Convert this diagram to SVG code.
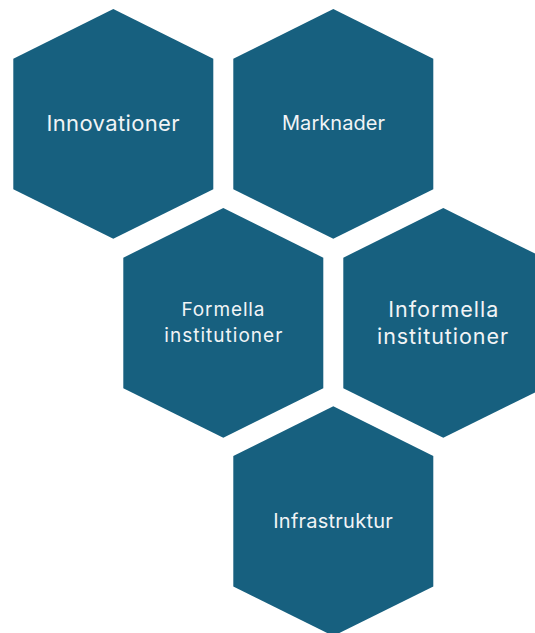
<svg xmlns="http://www.w3.org/2000/svg" xmlns:xlink="http://www.w3.org/1999/xlink" width="535" height="633" viewBox="0 0 535 633">
  <defs>
    <!-- pointy-top hexagon, origin at the top vertex -->
    <polygon id="hex" points="0,0 100,49.7 100,180.3 0,229.7 -100,180.3 -100,49.7"/>
  </defs>
  <style>
    .cell { fill: #17607f; }
    .label { fill: #f1f4f6; font-family: Inter, "Noto Sans", "Liberation Sans", sans-serif; text-anchor: middle; }
  </style>
  <rect width="535" height="633" fill="#ffffff"/>

  <g id="innovationer">
    <use xlink:href="#hex" href="#hex" class="cell" transform="translate(113.3,9)"/>
    <text class="label" x="113" y="131" font-size="22" textLength="133" lengthAdjust="spacing">Innovationer</text>
  </g>

  <g id="marknader">
    <use xlink:href="#hex" href="#hex" class="cell" transform="translate(333.3,9)"/>
    <text class="label" x="333.5" y="130" font-size="20" textLength="103" lengthAdjust="spacing">Marknader</text>
  </g>

  <g id="formella-institutioner">
    <use xlink:href="#hex" href="#hex" class="cell" transform="translate(223.3,208)"/>
    <text class="label" x="223" y="315.7" font-size="19" textLength="83" lengthAdjust="spacing">Formella</text>
    <text class="label" x="223.3" y="342" font-size="19" textLength="118" lengthAdjust="spacing">institutioner</text>
  </g>

  <g id="informella-institutioner">
    <use xlink:href="#hex" href="#hex" class="cell" transform="translate(443.3,208)"/>
    <text class="label" x="443.3" y="316.5" font-size="21.5" textLength="110" lengthAdjust="spacing">Informella</text>
    <text class="label" x="442.5" y="344" font-size="21.5" textLength="131" lengthAdjust="spacing">institutioner</text>
  </g>

  <g id="infrastruktur">
    <use xlink:href="#hex" href="#hex" class="cell" transform="translate(333.3,406.3)"/>
    <text class="label" x="333" y="527.7" font-size="20" textLength="119.5" lengthAdjust="spacing">Infrastruktur</text>
  </g>

  <g id="connectors"/>
</svg>
